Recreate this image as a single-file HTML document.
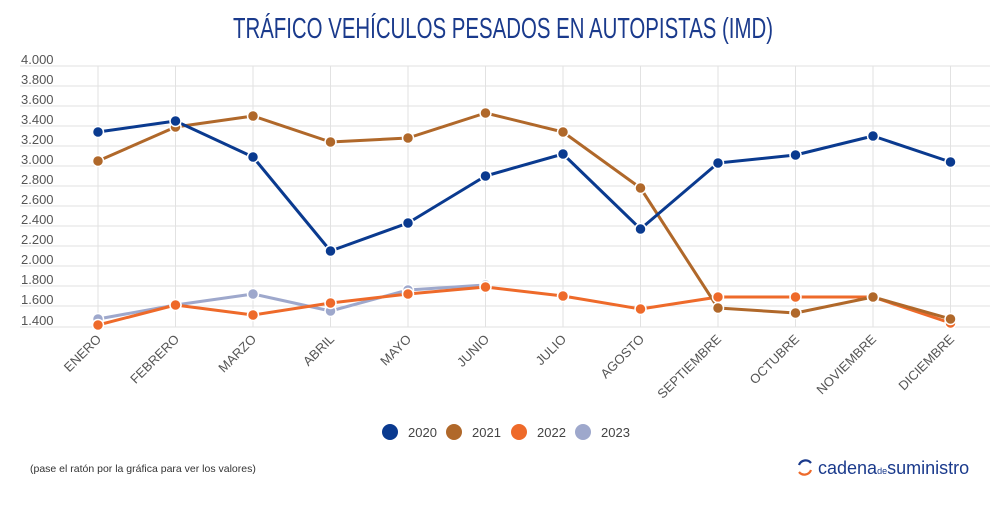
<!DOCTYPE html>
<html><head><meta charset="utf-8"><style>
body{margin:0;background:#fff;width:1000px;height:500px;overflow:hidden;font-family:"Liberation Sans",sans-serif}
</style></head><body>
<svg width="1000" height="500" xmlns="http://www.w3.org/2000/svg" font-family="Liberation Sans, sans-serif">
<text x="503" y="38" text-anchor="middle" font-family="Liberation Sans Narrow, Liberation Sans, sans-serif" font-size="29" fill="#1a3a8c" textLength="540" lengthAdjust="spacingAndGlyphs">TRÁFICO VEHÍCULOS PESADOS EN AUTOPISTAS (IMD)</text>
<g stroke="#e2e2e2" stroke-width="1">
<line x1="20" x2="990" y1="66" y2="66"/><line x1="20" x2="990" y1="86" y2="86"/><line x1="20" x2="990" y1="106" y2="106"/><line x1="20" x2="990" y1="126" y2="126"/><line x1="20" x2="990" y1="146" y2="146"/><line x1="20" x2="990" y1="166" y2="166"/><line x1="20" x2="990" y1="186" y2="186"/><line x1="20" x2="990" y1="206" y2="206"/><line x1="20" x2="990" y1="226" y2="226"/><line x1="20" x2="990" y1="246" y2="246"/><line x1="20" x2="990" y1="266" y2="266"/><line x1="20" x2="990" y1="286" y2="286"/><line x1="20" x2="990" y1="306" y2="306"/><line x1="20" x2="990" y1="327" y2="327"/>
<line x1="98" x2="98" y1="66" y2="327"/><line x1="175.5" x2="175.5" y1="66" y2="327"/><line x1="253" x2="253" y1="66" y2="327"/><line x1="330.5" x2="330.5" y1="66" y2="327"/><line x1="408" x2="408" y1="66" y2="327"/><line x1="485.5" x2="485.5" y1="66" y2="327"/><line x1="563" x2="563" y1="66" y2="327"/><line x1="640.5" x2="640.5" y1="66" y2="327"/><line x1="718" x2="718" y1="66" y2="327"/><line x1="795.5" x2="795.5" y1="66" y2="327"/><line x1="873" x2="873" y1="66" y2="327"/><line x1="950.5" x2="950.5" y1="66" y2="327"/>
</g>
<g font-size="13" fill="#555">
<text x="21" y="64">4.000</text><text x="21" y="84">3.800</text><text x="21" y="104">3.600</text><text x="21" y="124">3.400</text><text x="21" y="144">3.200</text><text x="21" y="164">3.000</text><text x="21" y="184">2.800</text><text x="21" y="204">2.600</text><text x="21" y="224">2.400</text><text x="21" y="244">2.200</text><text x="21" y="264">2.000</text><text x="21" y="284">1.800</text><text x="21" y="304">1.600</text><text x="21" y="325">1.400</text>
</g>
<g font-size="13" fill="#555" text-anchor="end">
<text transform="translate(102,340) rotate(-45)">ENERO</text>
<text transform="translate(180,340) rotate(-45)">FEBRERO</text>
<text transform="translate(257,340) rotate(-45)">MARZO</text>
<text transform="translate(335,340) rotate(-45)">ABRIL</text>
<text transform="translate(412,340) rotate(-45)">MAYO</text>
<text transform="translate(490,340) rotate(-45)">JUNIO</text>
<text transform="translate(567,340) rotate(-45)">JULIO</text>
<text transform="translate(645,340) rotate(-45)">AGOSTO</text>
<text transform="translate(722,340) rotate(-45)">SEPTIEMBRE</text>
<text transform="translate(800,340) rotate(-45)">OCTUBRE</text>
<text transform="translate(877,340) rotate(-45)">NOVIEMBRE</text>
<text transform="translate(955,340) rotate(-45)">DICIEMBRE</text>
</g>
<g fill="none" stroke-width="3" stroke-linejoin="round">
<polyline stroke="#9ea8cc" points="98,319 175.5,305 253,294 330.5,311 408,290 485.5,285"/>
<polyline stroke="#ee6a2a" points="98,325 175.5,305 253,315 330.5,303 408,294 485.5,287 563,296 640.5,309 718,297 795.5,297 873,297 950.5,323"/>
<polyline stroke="#b0682a" points="98,161 175.5,127 253,116 330.5,142 408,138 485.5,113 563,132 640.5,188 718,308 795.5,313 873,297 950.5,319"/>
<polyline stroke="#0a3a8f" points="98,132 175.5,121 253,157 330.5,251 408,223 485.5,176 563,154 640.5,229 718,163 795.5,155 873,136 950.5,162"/>
</g>
<g stroke="#fff" stroke-width="1.5">
<g fill="#9ea8cc"><circle cx="98" cy="319" r="5.5"/><circle cx="175.5" cy="305" r="5.5"/><circle cx="253" cy="294" r="5.5"/><circle cx="330.5" cy="311" r="5.5"/><circle cx="408" cy="290" r="5.5"/><circle cx="485.5" cy="285" r="5.5"/></g>
<g fill="#ee6a2a"><circle cx="98" cy="325" r="5.5"/><circle cx="175.5" cy="305" r="5.5"/><circle cx="253" cy="315" r="5.5"/><circle cx="330.5" cy="303" r="5.5"/><circle cx="408" cy="294" r="5.5"/><circle cx="485.5" cy="287" r="5.5"/><circle cx="563" cy="296" r="5.5"/><circle cx="640.5" cy="309" r="5.5"/><circle cx="718" cy="297" r="5.5"/><circle cx="795.5" cy="297" r="5.5"/><circle cx="873" cy="297" r="5.5"/><circle cx="950.5" cy="323" r="5.5"/></g>
<g fill="#b0682a"><circle cx="98" cy="161" r="5.5"/><circle cx="175.5" cy="127" r="5.5"/><circle cx="253" cy="116" r="5.5"/><circle cx="330.5" cy="142" r="5.5"/><circle cx="408" cy="138" r="5.5"/><circle cx="485.5" cy="113" r="5.5"/><circle cx="563" cy="132" r="5.5"/><circle cx="640.5" cy="188" r="5.5"/><circle cx="718" cy="308" r="5.5"/><circle cx="795.5" cy="313" r="5.5"/><circle cx="873" cy="297" r="5.5"/><circle cx="950.5" cy="319" r="5.5"/></g>
<g fill="#0a3a8f"><circle cx="98" cy="132" r="5.5"/><circle cx="175.5" cy="121" r="5.5"/><circle cx="253" cy="157" r="5.5"/><circle cx="330.5" cy="251" r="5.5"/><circle cx="408" cy="223" r="5.5"/><circle cx="485.5" cy="176" r="5.5"/><circle cx="563" cy="154" r="5.5"/><circle cx="640.5" cy="229" r="5.5"/><circle cx="718" cy="163" r="5.5"/><circle cx="795.5" cy="155" r="5.5"/><circle cx="873" cy="136" r="5.5"/><circle cx="950.5" cy="162" r="5.5"/></g>
</g>
<g font-size="13" fill="#444">
<circle cx="390" cy="432" r="8" fill="#0a3a8f"/><text x="408" y="437">2020</text>
<circle cx="454" cy="432" r="8" fill="#b0682a"/><text x="472" y="437">2021</text>
<circle cx="519" cy="432" r="8" fill="#ee6a2a"/><text x="537" y="437">2022</text>
<circle cx="583" cy="432" r="8" fill="#9ea8cc"/><text x="601" y="437">2023</text>
</g>
<text x="30" y="472" font-size="10.5" fill="#333">(pase el ratón por la gráfica para ver los valores)</text>
<path d="M799 465 a7 7 0 0 1 12 -2" stroke="#1a3a8c" stroke-width="2.2" fill="none"/>
<path d="M811 470 a7 7 0 0 1 -12 2" stroke="#ee6a2a" stroke-width="2.2" fill="none"/>
<text x="818" y="474" font-size="18" fill="#1a3a8c">cadena<tspan font-size="9">de</tspan>suministro</text>
</svg>
</body></html>
